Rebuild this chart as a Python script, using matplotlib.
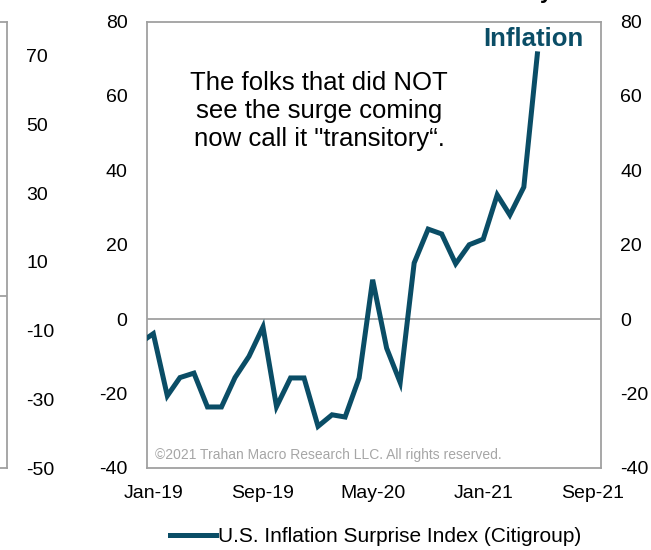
import matplotlib
matplotlib.use("Agg")
import matplotlib.pyplot as plt
import matplotlib.dates as mdates
import pandas as pd

plt.rcParams['font.family'] = ['Liberation Sans', 'DejaVu Sans']
plt.rcParams['axes.unicode_minus'] = False

# Monthly readings of the Citigroup U.S. Inflation Surprise Index
months = pd.date_range("2018-12-01", "2021-05-01", freq="MS")
surprise = [-6.5, -3.9, -20.6, -15.7, -14.5, -23.6, -23.6, -15.7, -10.0, -2.1,
            -23.5, -15.8, -15.8, -28.8, -25.7, -26.3, -15.8, 10.6, -7.8, -17.0,
            15.1, 24.2, 22.9, 14.9, 20.0, 21.5, 33.4, 28.0, 35.5, 71.3]

x_tick_dates = ["2019-01-01", "2019-09-01", "2020-05-01", "2021-01-01", "2021-09-01"]
y_ticks = [-40, -20, 0, 20, 40, 60, 80]
side_ticks = [-50, -30, -10, 10, 30, 50, 70]

teal = "#0A4D66"
frame = "#A0A0A0"
W, H = 651, 550

fig = plt.figure(figsize=(W / 100, H / 100), dpi=100)

# Neighbouring panel on the left (only its right edge shows)
ax0 = fig.add_axes([-0.5, 1 - 468 / H, 0.5 + 7 / W, 446.5 / H])
ax0.set_ylim(-50, 80)
ax0.set_xlim(0, 1)
ax0.axhline(0, color=frame, lw=1.3)
ax0.set_xticks([])
ax0.set_yticks(side_ticks)
ax0.yaxis.tick_right()
ax0.tick_params(axis='y', length=0, pad=14, labelsize=14, colors='black')
for s in ax0.spines.values():
    s.set_color(frame)
    s.set_linewidth(1.3)

# Main panel
ax = fig.add_axes([147 / W, 1 - 468 / H, 454 / W, 446.5 / H])
ax.plot(months, surprise, color=teal, lw=3.6, solid_joinstyle='miter',
        label="U.S. Inflation Surprise Index (Citigroup)", zorder=3)
ax.axhline(0, color=frame, lw=1.3, zorder=1)

ax.set_ylim(-40, 80)
ax.set_yticks(y_ticks)
ax.set_xlim(pd.Timestamp("2018-12-18"), pd.Timestamp("2021-09-19"))
ax.set_xticks(pd.to_datetime(x_tick_dates))
ax.xaxis.set_major_formatter(mdates.DateFormatter("%b-%y"))
ax.tick_params(axis='x', length=0, pad=12, labelsize=14)
ax.tick_params(axis='y', length=0, pad=14, labelsize=14,
               left=True, right=True, labelleft=True, labelright=True)
for s in ax.spines.values():
    s.set_color(frame)
    s.set_linewidth(1.3)

ax.text(319 / W, 1 - 111 / H,
        "The folks that did NOT\nsee the surge coming\nnow call it \"transitory\u201c.",
        transform=fig.transFigure, ha='center', va='center',
        fontsize=18.5, linespacing=1.2, color='black')
ax.text(533 / W, 1 - 39 / H, "Inflation", transform=fig.transFigure,
        ha='center', va='center', fontsize=18.5, fontweight='bold', color=teal)
ax.text(155 / W, 1 - 455 / H,
        "\u00a92021 Trahan Macro Research LLC. All rights reserved.",
        transform=fig.transFigure, ha='left', va='center',
        fontsize=10, color="#A6A6A6")

# Descender of the heading above the panel
fig.text(540 / W, 1 + 2 / H, "y", ha='left', va='baseline',
         fontsize=16, fontweight='bold', color='black')

fig.legend(loc='center', bbox_to_anchor=(376 / W, 1 - 537 / H), frameon=False,
           fontsize=15, handlelength=2.2, handletextpad=0.1,
           borderaxespad=0, borderpad=0)

fig.savefig("out.png", dpi=100)
